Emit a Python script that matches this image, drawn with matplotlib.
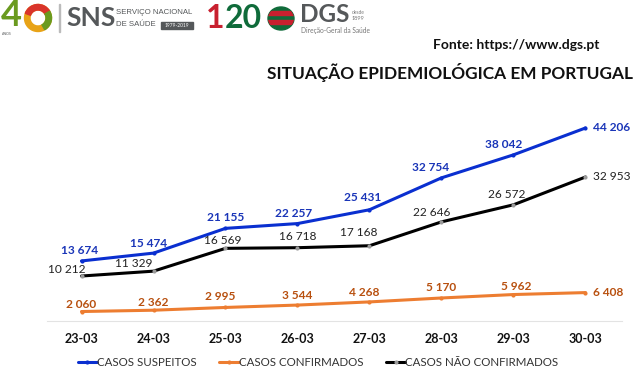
import matplotlib
matplotlib.use('Agg')
import matplotlib.pyplot as plt
from matplotlib.patches import Ellipse, Rectangle, Wedge

plt.rcParams['font.family'] = ['Lato', 'DejaVu Sans']

datas = ['23-03', '24-03', '25-03', '26-03', '27-03', '28-03', '29-03', '30-03']
suspeitos = [13674, 15474, 21155, 22257, 25431, 32754, 38042, 44206]
confirmados = [2060, 2362, 2995, 3544, 4268, 5170, 5962, 6408]
nao_confirmados = [10212, 11329, 16569, 16718, 17168, 22646, 26572, 32953]

# deslocamento das etiquetas em pixels (dx, dy)
off_susp = [(-1.5, 10), (-5, 10), (0, 11), (-3.5, 10), (-7, 12), (-11, 10), (-10, 10), (26, 0)]
off_conf = [(0, 7.5), (0, 8), (-5, 11), (0, 10), (-5, 9), (0, 10), (3, 8), (23, 0)]
off_nao = [(-14.5, 7), (-20, 8), (-3, 8), (0, 11), (-11, 13), (-10, 9), (-7, 10), (26, 0)]

W, H = 640, 378
fig = plt.figure(figsize=(W / 100, H / 100), dpi=100)

# fundo em coordenadas de pixel, para logotipos e titulos
bg = fig.add_axes([0, 0, 1, 1])
bg.set_xlim(0, W)
bg.set_ylim(H, 0)
bg.axis('off')

ax = fig.add_axes([47 / W, 1 - 320.5 / H, 575 / W, 220.5 / H])
ax.patch.set_alpha(0)
ax.set_xlim((47 - 81.5) / 72, (622 - 81.5) / 72)
ax.set_ylim(0, 50631)
for s in ['top', 'left', 'right']:
    ax.spines[s].set_visible(False)
ax.spines['bottom'].set_color('#e3e3e3')
ax.spines['bottom'].set_linewidth(0.8)
ax.set_yticks([])
ax.set_xticks(range(len(datas)))
ax.set_xticklabels(datas, fontsize=9, fontweight='bold', color='#111111')
ax.tick_params(axis='x', length=0, pad=9)


def px(v):
    return v * 72 / 100


def serie(vals, cor, cor_txt, offs, peso, nome):
    ax.plot(range(len(vals)), vals, color=cor, lw=2.2, marker='o', ms=3,
            mfc='#9a9a9a' if cor == 'black' else cor, mec='none',
            solid_capstyle='round', label=nome)
    for i, v in enumerate(vals):
        txt = f'{v:,}'.replace(',', ' ')
        ax.annotate(txt, (i, v), xytext=(px(offs[i][0]), px(offs[i][1])),
                    textcoords='offset points', ha='center', va='center',
                    fontsize=8.6, fontweight=peso, color=cor_txt)


serie(suspeitos, '#0a2fd0', '#1a35b8', off_susp, 'bold', 'CASOS SUSPEITOS')
serie(confirmados, '#ed7d31', '#b8500f', off_conf, 'bold', 'CASOS CONFIRMADOS')
serie(nao_confirmados, 'black', '#222222', off_nao, 'normal', 'CASOS NÃO CONFIRMADOS')

fig.legend(*ax.get_legend_handles_labels(), loc='center', bbox_to_anchor=(318 / W, 1 - 363 / H),
           ncol=3, frameon=False, fontsize=8.3, handlelength=1.65, handletextpad=0,
           columnspacing=2.0, labelcolor='#333333', borderpad=0)

bg.text(433, 45, 'Fonte: https://www.dgs.pt', fontsize=10, fontweight='bold', color='#111111', va='center')
bg.text(267, 72, 'SITUAÇÃO EPIDEMIOLÓGICA EM PORTUGAL', fontsize=12.4, fontweight='bold',
        color='#111111', va='center')

# logotipo SNS 40 anos
bg.text(1, 16, '4', fontsize=26, fontweight='bold', color='#6a9a1f', va='center')
bg.add_patch(Wedge((38, 18), 13.5, 0, 360, width=5.5, color='#e8a317'))
bg.add_patch(Wedge((38, 18), 13.5, 200, 330, width=5.5, color='#d9342b'))
bg.add_patch(Wedge((38, 18), 13.5, 330, 60, width=5.5, color='#6a9a1f'))
bg.text(7, 34, 'ANOS', fontsize=2.5, color='#55585a', va='center', ha='center')
bg.add_patch(Rectangle((59, 4), 0.8, 28, color='#bbbbbb'))
bg.text(66, 18, 'SNS', fontsize=19, fontweight='bold', color='#55585a', va='center')
bg.text(116, 12, 'SERVIÇO NACIONAL', fontsize=5.6, color='#55585a', va='center', family='Liberation Sans')
bg.text(116, 25, 'DE SAÚDE', fontsize=5.6, color='#55585a', va='center', family='Liberation Sans')
bg.add_patch(Rectangle((161, 22), 32, 7, color='#55585a'))
bg.text(177, 25.5, '1979-2019', fontsize=3.5, color='white', va='center', ha='center')

# logotipo DGS 120 anos
bg.text(224, 19, '1', fontsize=23, fontweight='bold', color='#c8202f', va='center', ha='right')
bg.text(225, 19, '20', fontsize=23, fontweight='bold', color='#0f6b3a', va='center')
globo = Ellipse((281, 18.5), 26, 23, color='#0f6b3a')
bg.add_patch(globo)
for y_faixa in [11, 20]:
    faixa = Rectangle((267, y_faixa), 28, 3.5, color='#c8202f')
    bg.add_patch(faixa)
    faixa.set_clip_path(globo)
bg.text(300, 15, 'DGS', fontsize=17.5, fontweight='bold', color='#55585a', va='center')
bg.text(301, 30.5, 'Direção-Geral da Saúde', fontsize=4.8, color='#777777', va='center')
bg.text(352, 12, 'desde', fontsize=3.5, color='#777777', va='center')
bg.text(352, 19, '1899', fontsize=4, color='#777777', va='center')

fig.savefig('out.png', dpi=100)
